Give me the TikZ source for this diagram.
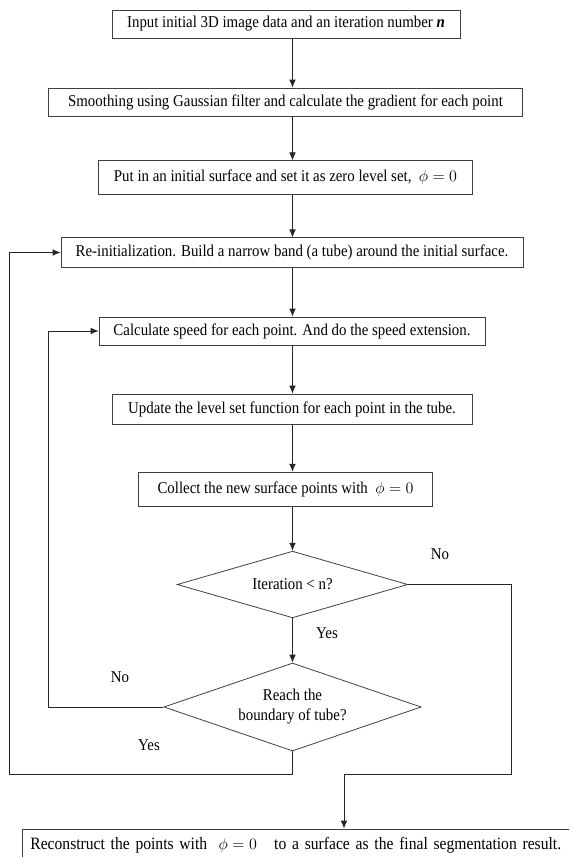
\documentclass[tikz,border=0pt]{standalone}
\usepackage{amsmath}
\usepackage{fontspec}
\setmainfont[FakeStretch=0.9]{Liberation Serif}
\usepackage{tikz}
\usetikzlibrary{shapes.geometric,arrows.meta,positioning}

\begin{document}
\begin{tikzpicture}[
    x=0.75pt, y=-0.75pt,
    line width=0.6pt,
    block/.style={rectangle, draw=black!75, inner sep=0pt, text centered, font=\fontsize{12.4}{15}\selectfont},
    decision/.style={diamond, draw=black!75, inner sep=0pt, align=center, font=\fontsize{12.4}{15}\selectfont},
    arrow/.style={-{Latex[length=6pt,width=5pt]}, draw=black!85},
    lbl/.style={font=\fontsize{12.4}{15}\selectfont, inner sep=1pt}
]
\useasboundingbox (0,0) rectangle (569,857);
\clip (0,0) rectangle (569,857);

\node[block, minimum width=261pt, minimum height=21pt] (input) at (286,24) {Input initial 3D image data and an iteration number \textbf{\textit{n}}};
\node[block, minimum width=356pt, minimum height=21pt] (smooth) at (285.5,102) {Smoothing using Gaussian filter and calculate the gradient for each point};
\node[block, minimum width=280pt, minimum height=25pt] (initsurf) at (285.5,177.5) {Put in an initial surface and set it as zero level set,~ $\phi = 0$};
\node[block, minimum width=346.5pt, minimum height=22pt] (reinit) at (292,252.5) {Re-initialization. Build a narrow band (a tube) around the initial surface.};
\node[block, minimum width=289.5pt, minimum height=21pt] (speed) at (292,331) {Calculate speed for each point. And do the speed extension.};
\node[block, minimum width=270pt, minimum height=22.5pt] (update) at (292,409) {Update the level set function for each point in the tube.};
\node[block, minimum width=221pt, minimum height=26pt] (collect) at (285.5,489.5) {Collect the new surface points with~ $\phi = 0$};
\node[decision, aspect=3.45, minimum width=173pt, minimum height=50pt] (iter) at (292.5,584.5) {Iteration < n?};
\node[decision, aspect=2.92, minimum width=193pt, minimum height=66pt] (reach) at (292.5,707) {Reach the\\boundary of tube?};
\node[block, anchor=west, align=left, text width=420pt, inner xsep=6pt, minimum height=24pt, font=\fontsize{13}{16}\selectfont] (result) at (22,845) {\mbox{Reconstruct the points with~ $\phi = 0$ ~ to a surface as the final segmentation result.}};

\draw[arrow] (input.south -| iter.north) -- (smooth.north -| iter.north);
\draw[arrow] (smooth.south -| iter.north) -- (initsurf.north -| iter.north);
\draw[arrow] (initsurf.south -| iter.north) -- (reinit.north -| iter.north);
\draw[arrow] (reinit.south -| iter.north) -- (speed.north -| iter.north);
\draw[arrow] (speed.south -| iter.north) -- (update.north -| iter.north);
\draw[arrow] (update.south -| iter.north) -- (collect.north -| iter.north);
\draw[arrow] (collect.south -| iter.north) -- (iter.north);
\draw[arrow] (iter.south) -- (reach.north);

\coordinate (outer) at (9,774);
\coordinate (inner) at (48,707);
\coordinate (noturn) at (511,774);
\coordinate (drop) at (344,774);

\draw[arrow] (reach.south) |- (outer) |- (reinit.west);
\draw[arrow] (reach.west) -- (inner) |- (speed.west);
\draw[arrow] (iter.east) -| (noturn) -- (drop) -- (result.north -| drop);

\node[lbl] (no1) at (440,554) {No};
\node[lbl] (yes1) at (327,633) {Yes};
\node[lbl] (no2) at (120,677) {No};
\node[lbl] (yes2) at (149,745) {Yes};

\end{tikzpicture}
\end{document}
